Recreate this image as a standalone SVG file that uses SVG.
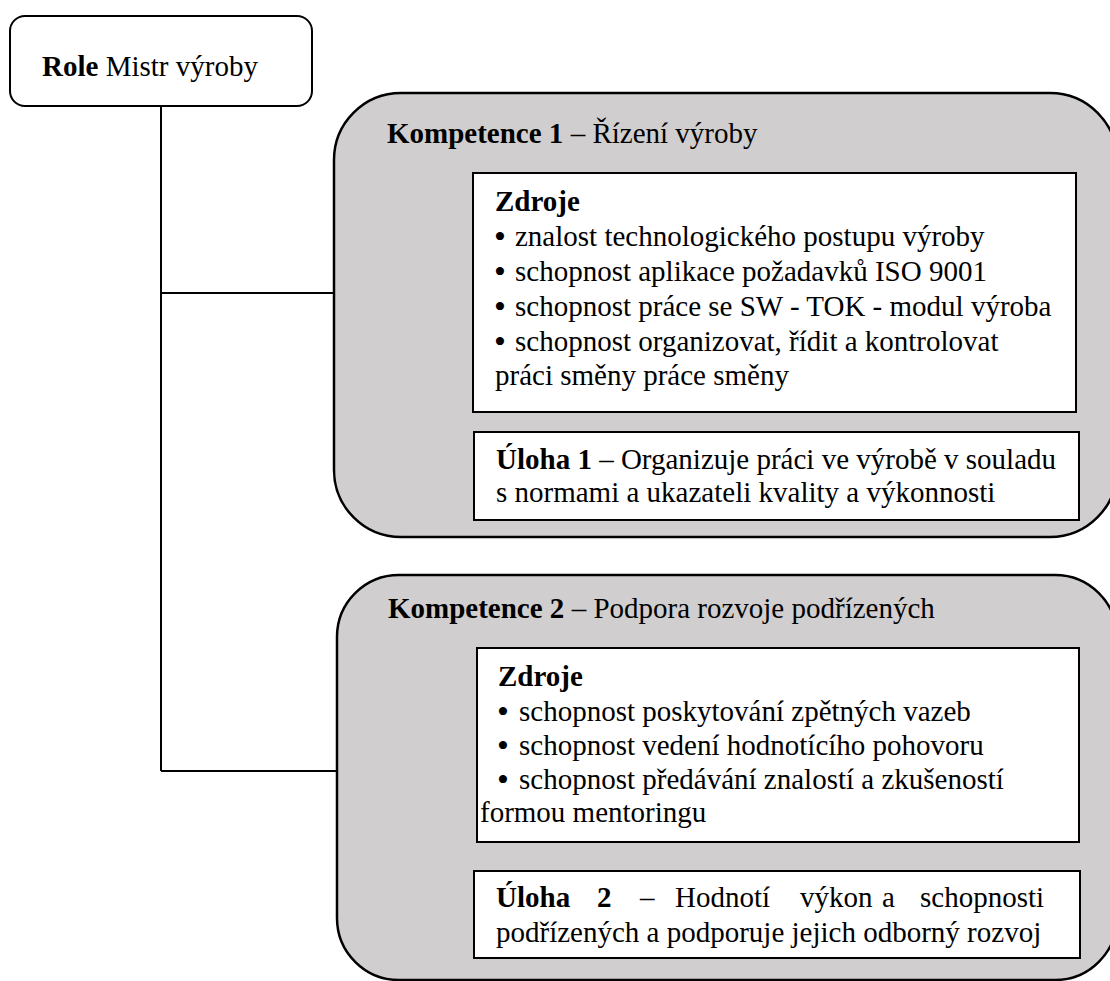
<svg xmlns="http://www.w3.org/2000/svg" width="1110" height="981" viewBox="0 0 1110 981">
<style>
text{font-family:"Liberation Serif","Times New Roman",serif;font-size:29px;fill:#000}
.b{font-weight:bold}
.bu{font-size:34px}
.role{fill:#fff;stroke:#000;stroke-width:2}
.comp{fill:#d0cece;stroke:#000;stroke-width:2.5}
.inner{fill:#fff;stroke:#000;stroke-width:2}
.conn{fill:none;stroke:#000;stroke-width:2}
</style>
<rect width="1110" height="981" fill="#fff"/>
<g id="connectors">
<path class="conn" d="M161,106 V771 M161,293 H334 M161,771 H337"/>
</g>
<g id="role">
<rect class="role" x="10" y="16" width="302" height="90" rx="15"/>
<text x="42" y="76"><tspan class="b">Role</tspan> Mistr výroby</text>
</g>
<g id="kompetence1">
<rect class="comp" x="334" y="93" width="783" height="444" rx="67"/>
<text x="387" y="143"><tspan class="b">Kompetence 1</tspan> – Řízení výroby</text>
<g id="zdroje1">
<rect class="inner" x="473" y="173" width="603" height="239"/>
<text class="b" x="495" y="211">Zdroje</text>
<text class="bu" x="494" y="247.5">•</text><text x="515" y="246">znalost technologického postupu výroby</text>
<text class="bu" x="494" y="282.5">•</text><text x="515" y="281">schopnost aplikace požadavků ISO 9001</text>
<text class="bu" x="494" y="317.5">•</text><text x="515" y="316">schopnost práce se SW - TOK - modul výroba</text>
<text class="bu" x="494" y="352.5">•</text><text x="515" y="351">schopnost organizovat, řídit a kontrolovat</text>
<text x="495" y="385">práci směny práce směny</text>
</g>
<g id="uloha1">
<rect class="inner" x="474" y="432" width="605" height="88"/>
<text x="496" y="469"><tspan class="b">Úloha 1</tspan> – Organizuje práci ve výrobě v souladu</text>
<text x="496" y="502">s normami a ukazateli kvality a výkonnosti</text>
</g>
</g>
<g id="kompetence2">
<rect class="comp" x="337" y="575" width="780" height="405" rx="62"/>
<text x="388" y="618"><tspan class="b">Kompetence 2</tspan> – Podpora rozvoje podřízených</text>
<g id="zdroje2">
<rect class="inner" x="477" y="648" width="602" height="194"/>
<text class="b" x="498" y="686">Zdroje</text>
<text class="bu" x="497" y="722.5">•</text><text x="519" y="721">schopnost poskytování zpětných vazeb</text>
<text class="bu" x="497" y="756.5">•</text><text x="519" y="755">schopnost vedení hodnotícího pohovoru</text>
<text class="bu" x="497" y="790.5">•</text><text x="519" y="789">schopnost předávání znalostí a zkušeností</text>
<text x="480" y="822">formou mentoringu</text>
</g>
<g id="uloha2">
<rect class="inner" x="474" y="871" width="606" height="87"/>
<text y="907"><tspan class="b" x="496">Úloha</tspan><tspan class="b" x="597">2</tspan><tspan x="640">–</tspan><tspan x="675">Hodnotí</tspan><tspan x="800">výkon</tspan><tspan x="882">a</tspan><tspan x="920">schopnosti</tspan></text>
<text x="496" y="942">podřízených a podporuje jejich odborný rozvoj</text>
</g>
</g>
</svg>
